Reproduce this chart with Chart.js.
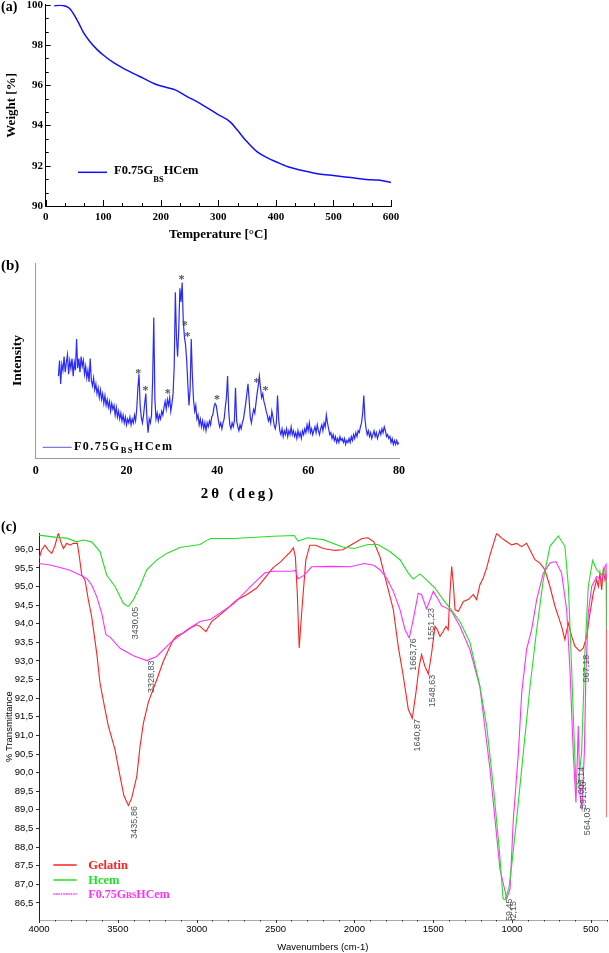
<!DOCTYPE html>
<html>
<head>
<meta charset="utf-8">
<script src="https://cdn.jsdelivr.net/npm/chart.js@4.4.1/dist/chart.umd.min.js"></script>
<style>
  body { margin: 0; background: #fff; }
  canvas { position: absolute; left: 0; }
  #tga { top: 0; }
  #xrd { top: 250px; }
  #ftir { top: 510px; }
</style>
</head>
<body>
<canvas id="tga" width="420" height="245"></canvas>
<canvas id="xrd" width="420" height="255"></canvas>
<canvas id="ftir" width="609" height="443"></canvas>
<script>
// (a) TGA
const tgaTemp = [15, 25, 35, 42, 50, 58, 66, 77, 89, 100, 118, 135, 152, 170, 190, 210, 225, 245, 268, 299, 320, 333, 347, 367, 387, 400, 421, 448, 475, 500, 530, 557, 577, 600];
const tgaWeight = [99.95, 99.97, 99.92, 99.8, 99.47, 99.05, 98.6, 98.16, 97.78, 97.5, 97.12, 96.84, 96.59, 96.34, 96.06, 95.89, 95.77, 95.45, 95.1, 94.55, 94.19, 93.77, 93.28, 92.7, 92.37, 92.2, 91.95, 91.75, 91.59, 91.51, 91.41, 91.32, 91.29, 91.17];
const tempTicks = [0, 100, 200, 300, 400, 500, 600];
const weightTicks = [90, 92, 94, 96, 98, 100];

// (b) XRD, sampled every 0.25 deg from 5 to 80
const xrdStart = 5, xrdStep = 0.25;
const xrdIntensity = [
  42, 50, 38, 48, 45, 52, 44, 49,
  53, 43, 50, 46, 51, 42, 49, 45,
  61, 46, 51, 44, 52, 47, 50, 43,
  47, 41, 45, 39, 51, 40, 37, 41,
  35, 38, 33, 36, 31, 35, 30, 33,
  28, 32, 27, 30, 26, 29, 24, 28,
  25, 27, 22, 26, 21, 24, 20, 23,
  19, 22, 18, 21, 17, 20, 18, 21,
  17, 20, 18, 22, 19, 25, 36, 43,
  27, 21, 18, 22, 28, 33, 20, 13,
  20, 18, 22, 40, 72, 30, 20, 23,
  19, 22, 20, 24, 22, 26, 29, 25,
  30, 27, 31, 24, 28, 33, 47, 85,
  62, 52, 66, 87, 80, 90, 70, 62,
  58, 50, 38, 27, 35, 61, 42, 30,
  24, 27, 20, 22, 17, 20, 16, 19,
  15, 18, 14, 18, 16, 19, 17, 21,
  22, 26, 28, 27, 23, 19, 16, 18,
  15, 18, 20, 26, 31, 42, 24, 17,
  15, 18, 16, 19, 36, 19, 16, 14,
  17, 15, 18, 20, 24, 28, 33, 38,
  30, 21, 18, 22, 25, 23, 28, 33,
  37, 42, 36, 31, 33, 29, 27, 24,
  22, 19, 21, 18, 24, 21, 17, 15,
  18, 32, 20, 14, 12, 15, 11, 14,
  12, 15, 11, 14, 12, 16, 12, 14,
  11, 13, 10, 14, 11, 13, 10, 14,
  12, 15, 13, 17, 14, 18, 13, 15,
  12, 14, 16, 13, 17, 14, 12, 15,
  17, 14, 18, 16, 22, 18, 15, 12,
  13, 10, 12, 9, 11, 8, 10, 8,
  11, 9, 10, 8, 10, 7, 9, 8,
  10, 8, 11, 9, 12, 10, 13, 11,
  14, 13, 16, 18, 23, 32, 20, 15,
  12, 14, 11, 13, 10, 12, 14, 11,
  13, 10, 12, 14, 12, 15, 13, 16,
  14, 11, 12, 10, 11, 8, 10, 7,
  9, 7, 9, 7, 8
];
const angleTicks = [0, 20, 40, 60, 80];
const starAngle = [22.6, 24.2, 29.1, 32.1, 32.8, 33.4, 39.9, 48.6, 50.6];
const starLevel = [44.8, 36.1, 34.2, 93, 69.4, 63.6, 31.4, 40, 36.1];

// (c) FTIR
const gelatinWn = [4000, 3983, 3962, 3941, 3919, 3898, 3877, 3862, 3845, 3824, 3803, 3782, 3757, 3744, 3729, 3708, 3687, 3666, 3634, 3613, 3581, 3560, 3518, 3486, 3461, 3433, 3412, 3380, 3359, 3338, 3306, 3254, 3211, 3169, 3148, 3127, 3085, 3042, 3000, 2979, 2941, 2905, 2852, 2789, 2746, 2683, 2620, 2577, 2517, 2468, 2406, 2387, 2374, 2362, 2350, 2333, 2308, 2283, 2246, 2197, 2123, 2074, 2025, 1951, 1914, 1877, 1838, 1796, 1753, 1722, 1690, 1658, 1633, 1610, 1589, 1574, 1553, 1531, 1510, 1489, 1474, 1457, 1436, 1419, 1405, 1394, 1383, 1373, 1362, 1341, 1309, 1278, 1246, 1225, 1204, 1183, 1161, 1140, 1098, 1066, 1035, 1003, 971, 940, 908, 887, 855, 823, 792, 760, 728, 707, 686, 665, 644, 622, 601, 570, 548, 527, 506, 485, 464, 453, 443, 432, 422, 411, 402, 400];
const gelatinT = [95.75, 95.98, 96.11, 95.98, 95.89, 96.11, 96.44, 96.2, 96.02, 96.16, 96.11, 96.16, 96.16, 95.8, 95.31, 95.17, 94.64, 94.19, 93.21, 92.4, 91.69, 91.25, 90.62, 89.9, 89.37, 89.12, 89.32, 89.9, 90.71, 91.33, 91.9, 92.49, 93.0, 93.39, 93.57, 93.67, 93.75, 93.88, 93.97, 93.93, 93.79, 94.06, 94.24, 94.47, 94.64, 94.78, 94.96, 95.18, 95.5, 95.66, 95.93, 96.04, 95.79, 94.81, 93.35, 94.37, 95.71, 96.11, 96.11, 96.02, 95.97, 95.99, 96.11, 96.29, 96.31, 96.2, 95.8, 95.09, 94.38, 93.39, 92.59, 91.7, 91.46, 92.14, 92.86, 93.17, 92.86, 92.65, 93.22, 93.93, 93.84, 93.66, 93.8, 93.93, 93.84, 94.82, 95.54, 95.09, 94.38, 94.33, 94.6, 94.65, 94.78, 94.65, 95.05, 95.23, 95.5, 95.85, 96.43, 96.3, 96.21, 96.12, 96.16, 96.07, 96.16, 95.99, 95.72, 95.63, 95.45, 95.0, 94.47, 94.2, 93.93, 93.57, 94.02, 93.66, 93.39, 93.26, 93.35, 93.66, 94.29, 94.82, 95.18, 95.0, 95.36, 94.91, 95.45, 95.18, 95.3, 88.8];
const hcemWn = [4000, 3888, 3824, 3761, 3719, 3666, 3613, 3571, 3518, 3465, 3434, 3402, 3360, 3317, 3254, 3190, 3106, 2979, 2936, 2911, 2764, 2517, 2382, 2357, 2296, 2197, 2074, 2000, 1914, 1852, 1775, 1711, 1658, 1627, 1584, 1542, 1489, 1436, 1394, 1331, 1267, 1204, 1161, 1119, 1081, 1057, 1045, 1020, 1000, 971, 929, 886, 844, 802, 760, 707, 665, 643, 622, 607, 595, 580, 559, 538, 517, 489, 464, 432, 411, 402, 400];
const hcemT = [96.38, 96.32, 96.3, 96.2, 96.25, 96.2, 95.94, 95.31, 95.0, 94.55, 94.46, 94.64, 95.0, 95.45, 95.71, 95.89, 96.05, 96.13, 96.24, 96.29, 96.29, 96.35, 96.37, 96.22, 96.31, 96.26, 96.06, 96.02, 96.13, 96.13, 95.94, 95.72, 95.36, 95.2, 95.34, 95.18, 94.96, 94.64, 94.42, 94.06, 93.5, 92.32, 91.25, 89.64, 87.93, 86.61, 86.58, 86.9, 87.6, 88.75, 90.53, 92.32, 93.84, 95.18, 96.08, 96.36, 96.08, 95.0, 92.77, 90.98, 89.64, 89.73, 90.53, 93.22, 95.0, 95.7, 95.45, 95.32, 95.45, 95.1, 93.84];
const compWn = [4000, 3930, 3867, 3803, 3740, 3697, 3666, 3634, 3602, 3575, 3549, 3486, 3401, 3317, 3254, 3169, 3063, 2979, 2911, 2764, 2640, 2567, 2517, 2394, 2374, 2357, 2320, 2271, 2148, 2025, 1938, 1877, 1838, 1796, 1753, 1711, 1679, 1652, 1627, 1595, 1574, 1542, 1500, 1468, 1447, 1415, 1383, 1331, 1267, 1204, 1140, 1077, 1034, 1013, 992, 960, 939, 908, 876, 844, 802, 760, 722, 686, 654, 633, 612, 595, 580, 569, 557, 542, 531, 517, 495, 464, 432, 411, 402, 400];
const compT = [95.62, 95.58, 95.51, 95.44, 95.31, 95.22, 95.04, 94.73, 94.28, 93.7, 93.64, 93.34, 93.14, 93.01, 93.12, 93.48, 93.83, 94.06, 94.12, 94.54, 95.08, 95.37, 95.41, 95.41, 95.44, 95.21, 95.3, 95.53, 95.54, 95.53, 95.62, 95.57, 95.45, 95.23, 94.87, 94.38, 93.84, 93.62, 94.11, 94.82, 94.78, 94.4, 94.87, 94.65, 94.48, 94.42, 94.33, 93.93, 93.3, 92.3, 90.09, 87.41, 86.62, 86.87, 88.75, 90.53, 92.14, 93.31, 93.84, 94.65, 95.36, 95.63, 95.67, 95.36, 94.38, 92.77, 90.53, 89.2, 91.25, 89.37, 89.05, 90.53, 92.77, 94.29, 95.0, 95.27, 95.18, 95.54, 95.6, 93.8];
const wnTicks = [4000, 3500, 3000, 2500, 2000, 1500, 1000, 500];
const transTicks = [86.5, 87, 87.5, 88, 88.5, 89, 89.5, 90, 90.5, 91, 91.5, 92, 92.5, 93, 93.5, 94, 94.5, 95, 95.5, 96];
const peakText = ['3430,05', '3328,83', '3435,86', '1663,76', '1551,23', '1640,87', '1548,63', '567,18', '603,14', '591,10', '564,03', '1059,45', '1032,15'];
const peakWn = [3430.05, 3328.83, 3435.86, 1663.76, 1551.23, 1640.87, 1548.63, 567.18, 603.14, 591.10, 564.03, 1059.45, 1032.15];
const peakTop = [94.46, 93.01, 89.1, 93.61, 94.42, 91.44, 92.63, 93.17, 90.16, 89.76, 89.06, 86.62, 86.55];

const SERIF = '"Liberation Serif", "Times New Roman", serif';
const SANS = '"Liberation Sans", Arial, sans-serif';
Chart.defaults.font.family = SANS;
Chart.defaults.color = '#000';

const pts = (xs, ys) => xs.map((x, i) => ({ x: x, y: ys[i] }));
const setTicks = list => s => { s.ticks = list.map(v => ({ value: v })); };
const fixSize = (prop, size) => s => {
  s[prop] = size;
  s.paddingLeft = s.paddingRight = s.paddingTop = s.paddingBottom = 0;
};
const plain = v => String(v);

function richText(ctx, x, y, parts, color) {
  ctx.fillStyle = color;
  ctx.textBaseline = 'alphabetic';
  ctx.textAlign = 'left';
  parts.forEach(p => {
    ctx.font = p.font;
    ctx.fillText(p.text, x, y + (p.dy || 0));
    x += ctx.measureText(p.text).width;
  });
}

function line(ctx, x1, y1, x2, y2) {
  ctx.beginPath();
  ctx.moveTo(x1, y1);
  ctx.lineTo(x2, y2);
  ctx.stroke();
}

// ---------- (a) ----------
const tgaExtras = {
  id: 'tgaExtras',
  afterDraw(chart) {
    const { ctx, chartArea: a } = chart;
    const x = chart.scales.x, y = chart.scales.y;
    ctx.save();
    ctx.strokeStyle = '#000';
    ctx.lineWidth = 1;
    for (let i = 0; i <= 18; i++) {
      const px = Math.round(x.getPixelForValue(i * 100 / 3)) + 0.5;
      line(ctx, px, a.bottom, px, a.bottom - (i % 3 === 0 ? 6 : 3));
    }
    for (let i = 0; i <= 15; i++) {
      const py = Math.round(y.getPixelForValue(90 + i * 2 / 3)) + 0.5;
      line(ctx, a.left, py, a.left + (i % 3 === 0 ? 5 : 3), py);
    }
    ctx.strokeStyle = '#1010ff';
    ctx.lineWidth = 1.5;
    line(ctx, 78, 172.3, 107, 172.3);
    richText(ctx, 114, 174, [
      { text: 'F0.75G', font: 'bold 12.5px ' + SERIF },
      { text: 'BS', font: 'bold 8.5px ' + SERIF, dy: 7.5 },
      { text: 'HCem', font: 'bold 12.5px ' + SERIF }
    ], '#000');
    richText(ctx, 1, 11, [{ text: '(a)', font: 'bold 14px ' + SERIF }], '#000');
    ctx.restore();
  }
};

new Chart(document.getElementById('tga'), {
  type: 'line',
  data: {
    datasets: [{
      data: pts(tgaTemp, tgaWeight),
      borderColor: '#1010ff',
      borderWidth: 1.5,
      pointRadius: 0,
      cubicInterpolationMode: 'monotone'
    }]
  },
  options: {
    responsive: false,
    animation: false,
    layout: { padding: { top: 4.7, right: 29, left: 0, bottom: 0 } },
    plugins: { legend: { display: false }, tooltip: { enabled: false } },
    scales: {
      x: {
        type: 'linear', min: 0, max: 600,
        afterBuildTicks: setTicks(tempTicks),
        afterFit: fixSize('height', 39),
        grid: { display: false, drawTicks: false },
        border: { color: '#000' },
        ticks: { font: { family: SERIF, size: 11, weight: 'bold' }, color: '#000', padding: 4.4, maxRotation: 0, callback: plain },
        title: { display: true, text: 'Temperature [°C]', color: '#000', font: { family: SERIF, size: 13, weight: 'bold' }, padding: { top: 0, bottom: 2.6 } }
      },
      y: {
        min: 90, max: 100,
        afterBuildTicks: setTicks(weightTicks),
        afterFit: fixSize('width', 45.7),
        grid: { display: false, drawTicks: false },
        border: { color: '#000' },
        ticks: { font: { family: SERIF, size: 11, weight: 'bold' }, color: '#000', padding: 2.7, callback: plain },
        title: { display: true, text: 'Weight [%]', color: '#000', font: { family: SERIF, size: 13, weight: 'bold' }, padding: { top: 3.8, bottom: 0 } }
      }
    }
  },
  plugins: [tgaExtras]
});

// ---------- (b) ----------
const xrdExtras = {
  id: 'xrdExtras',
  afterDraw(chart) {
    const { ctx } = chart;
    const x = chart.scales.x, y = chart.scales.y;
    ctx.save();
    ctx.fillStyle = '#555';
    ctx.font = 'bold 12px ' + SERIF;
    ctx.textAlign = 'center';
    ctx.textBaseline = 'alphabetic';
    starAngle.forEach((ang, i) => {
      ctx.fillText('*', x.getPixelForValue(ang), y.getPixelForValue(starLevel[i]) + 6);
    });
    ctx.strokeStyle = '#5a5ad0';
    ctx.lineWidth = 1;
    line(ctx, 42.7, 197.3, 71.7, 197.3);
    ctx.letterSpacing = '1.5px';
    richText(ctx, 74, 200.3, [
      { text: 'F0.75G', font: 'bold 12px ' + SERIF },
      { text: 'BS', font: 'bold 8.5px ' + SERIF, dy: 3 },
      { text: 'HCem', font: 'bold 12px ' + SERIF }
    ], '#000');
    ctx.letterSpacing = '3px';
    ctx.font = 'bold 15px ' + SERIF;
    ctx.textAlign = 'center';
    ctx.textBaseline = 'middle';
    ctx.fillStyle = '#000';
    ctx.fillText('2θ (deg)', 238.5, 244);
    ctx.letterSpacing = '0px';
    richText(ctx, 1, 20, [{ text: '(b)', font: 'bold 15px ' + SERIF }], '#000');
    ctx.restore();
  }
};

new Chart(document.getElementById('xrd'), {
  type: 'line',
  data: {
    datasets: [{
      data: xrdIntensity.map((v, i) => ({ x: xrdStart + i * xrdStep, y: v })),
      borderColor: '#2a2aff',
      borderWidth: 1.2,
      pointRadius: 0,
      tension: 0
    }]
  },
  options: {
    responsive: false,
    animation: false,
    layout: { padding: { top: 13, right: 21, left: 0, bottom: 0 } },
    plugins: { legend: { display: false }, tooltip: { enabled: false } },
    scales: {
      x: {
        type: 'linear', min: 0, max: 80,
        afterBuildTicks: setTicks(angleTicks),
        afterFit: fixSize('height', 47),
        grid: { display: false, drawTicks: false },
        border: { color: '#999' },
        ticks: { font: { family: SERIF, size: 12, weight: 'bold' }, color: '#000', padding: 5.8, maxRotation: 0, callback: plain }
      },
      y: {
        min: 0, max: 100,
        afterFit: fixSize('width', 35.7),
        grid: { display: false, drawTicks: false },
        border: { color: '#999' },
        ticks: { display: false },
        title: { display: true, text: 'Intensity', color: '#000', font: { family: SERIF, size: 13.5, weight: 'bold' }, padding: { top: 9.4, bottom: 0 } }
      }
    }
  },
  plugins: [xrdExtras]
});

// ---------- (c) ----------
const ftirExtras = {
  id: 'ftirExtras',
  afterDraw(chart) {
    const { ctx, chartArea: a } = chart;
    const x = chart.scales.x, y = chart.scales.y;
    ctx.save();
    ctx.strokeStyle = '#333';
    ctx.lineWidth = 1;
    for (let i = 0; i <= 36; i++) {
      const v = 4000 - i * 100;
      const px = Math.round(x.getPixelForValue(v)) + 0.5;
      line(ctx, px, a.bottom, px, a.bottom + (v % 500 === 0 ? 3 : 1.5));
    }
    ctx.save();
    ctx.beginPath();
    ctx.rect(a.left, a.top, a.right - a.left, a.bottom - a.top);
    ctx.clip();
    ctx.fillStyle = '#4a5454';
    ctx.font = '9px ' + SANS;
    ctx.textAlign = 'right';
    ctx.textBaseline = 'top';
    peakText.forEach((t, i) => {
      ctx.save();
      ctx.translate(x.getPixelForValue(peakWn[i]) + 2, y.getPixelForValue(peakTop[i]));
      ctx.rotate(-Math.PI / 2);
      ctx.fillText(t, 0, 0);
      ctx.restore();
    });
    ctx.restore();

    const rows = [
      { y: 355, color: '#ff2020', dash: [], parts: [{ text: 'Gelatin', font: 'bold 12.5px ' + SERIF }] },
      { y: 370, color: '#22e022', dash: [], parts: [{ text: 'Hcem', font: 'bold 12.5px ' + SERIF }] },
      { y: 384, color: '#ff30ff', dash: [1.5, 1], parts: [
        { text: 'F0.75G', font: 'bold 12px ' + SERIF },
        { text: 'BS', font: 'bold 8.5px ' + SERIF },
        { text: 'HCem', font: 'bold 12px ' + SERIF }
      ] }
    ];
    rows.forEach(r => {
      ctx.strokeStyle = r.color;
      ctx.lineWidth = 1.5;
      ctx.setLineDash(r.dash);
      line(ctx, 53.3, r.y, 76.7, r.y);
      ctx.setLineDash([]);
      richText(ctx, 88.3, r.y + 4.2, r.parts, r.color);
    });
    richText(ctx, 1, 20.5, [{ text: '(c)', font: 'bold 14px ' + SERIF }], '#000');
    ctx.restore();
  }
};

const ftirLine = (xs, ys, color) => ({
  data: pts(xs, ys),
  borderColor: color,
  borderWidth: 1.1,
  pointRadius: 0,
  tension: 0
});

new Chart(document.getElementById('ftir'), {
  type: 'line',
  data: {
    datasets: [
      ftirLine(hcemWn, hcemT, '#22e022'),
      ftirLine(compWn, compT, '#ff30ff'),
      ftirLine(gelatinWn, gelatinT, '#ff2020')
    ]
  },
  options: {
    responsive: false,
    animation: false,
    layout: { padding: { top: 23.3, right: 2.3, left: 0, bottom: 0 } },
    plugins: { legend: { display: false }, tooltip: { enabled: false } },
    scales: {
      x: {
        type: 'linear', min: 400, max: 4000, reverse: true,
        afterBuildTicks: setTicks(wnTicks),
        afterFit: fixSize('height', 33),
        grid: { display: false, drawTicks: false },
        border: { color: '#aaa' },
        ticks: { font: { family: SANS, size: 9.5 }, color: '#000', padding: 3.6, maxRotation: 0, callback: plain },
        title: { display: true, text: 'Wavenumbers (cm-1)', color: '#000', font: { family: SANS, size: 9.5 }, padding: { top: 0, bottom: 0.3 } }
      },
      y: {
        min: 86.04, max: 96.43,
        afterBuildTicks: setTicks(transTicks),
        afterFit: fixSize('width', 39),
        grid: { display: true, drawOnChartArea: false, drawTicks: true, tickLength: 3, color: '#333' },
        border: { color: '#222', dash: [1, 2] },
        ticks: {
          font: { family: SANS, size: 9.5 }, color: '#000', padding: 2.7,
          callback: v => v.toFixed(1).replace('.', ',')
        },
        title: { display: true, text: '% Transmittance', color: '#000', font: { family: SANS, size: 9.5 }, padding: { top: 3.3, bottom: 0 } }
      }
    }
  },
  plugins: [ftirExtras]
});
</script>
</body>
</html>
